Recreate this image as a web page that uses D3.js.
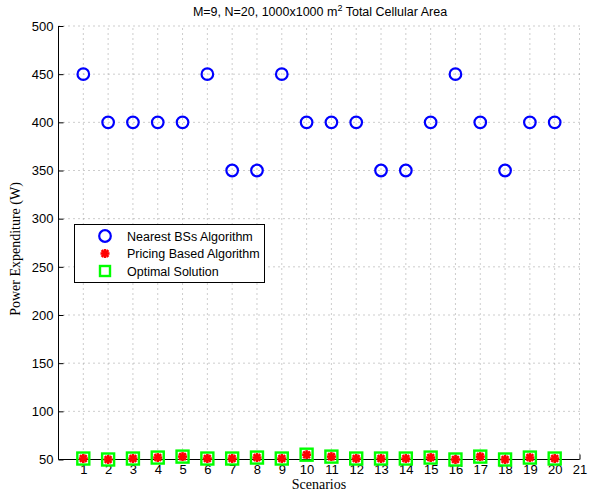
<!DOCTYPE html>
<html><head><meta charset="utf-8">
<script src="https://cdn.jsdelivr.net/npm/d3@7"></script>
<style>body{margin:0;background:#fff}svg{display:block}</style>
</head><body>
<script>
const scenarios = d3.range(1, 21);
const nearestBS = [450,400,400,400,400,450,350,350,450,400,400,400,350,350,400,450,400,350,400,400];
const pricing   = [51,50,51,52,53,51,51,52,51,55,53,51,51,51,52,50,53,50,52,51];
const optimal   = [51,50,51,52,53,51,51,52,51,55,53,51,51,51,52,50,53,50,52,51];
const xTicks = d3.range(1, 22);
const yTicks = d3.range(50, 501, 50);
const legendLabels = ["Nearest BSs Algorithm", "Pricing Based Algorithm", "Optimal Solution"];

const W = 592, H = 492;
const svg = d3.select("body").append("svg").attr("width", W).attr("height", H);
const x = d3.scaleLinear().domain([0, 21]).range([58.5, 579.5]);
const y = d3.scaleLinear().domain([50, 500]).range([459.5, 26]);

// grid
const g = svg.append("g");
g.selectAll(".gx").data(xTicks).join("line")
  .attr("x1", d => x(d)).attr("x2", d => x(d)).attr("y1", y(50)).attr("y2", y(500))
  .attr("stroke", "#9a9a9a").attr("stroke-width", 1).attr("stroke-dasharray", "1,4");
g.selectAll(".gy").data(yTicks).join("line")
  .attr("x1", x(0)).attr("x2", x(21)).attr("y1", d => y(d)).attr("y2", d => y(d))
  .attr("stroke", "#9a9a9a").attr("stroke-width", 1).attr("stroke-dasharray", "1,4");

// axes
const xAxis = d3.axisBottom(x).tickValues(xTicks).tickSize(-5).tickPadding(5).tickFormat(d3.format("d"));
const yAxis = d3.axisLeft(y).tickValues(yTicks).tickSize(-5).tickPadding(5).tickFormat(d3.format("d"));
const gx = svg.append("g").attr("transform", `translate(0,${y(50)})`).call(xAxis);
const gy = svg.append("g").attr("transform", `translate(${x(0)},0)`).call(yAxis);
[gx, gy].forEach(a => {
  a.select(".domain").attr("stroke", "#000").attr("stroke-width", 1);
  a.selectAll(".tick line").attr("stroke", "#000");
  a.selectAll("text").attr("font-family", "Liberation Sans, Arial, sans-serif").attr("font-size", 13).attr("fill", "#000");
});
gx.select(".domain").attr("d", `M${x(0)},0H${x(21)}`);
gy.select(".domain").attr("d", `M0,${y(50)}V${y(500)}`);

// markers
function asterisk(sel, cx, cy, r, color, sw) {
  const gg = sel.append("g").attr("transform", `translate(${cx},${cy})`)
    .attr("stroke", color).attr("stroke-width", sw).attr("stroke-linecap", "butt");
  gg.append("line").attr("x1", -r).attr("x2", r).attr("y1", 0).attr("y2", 0);
  gg.append("line").attr("x1", 0).attr("x2", 0).attr("y1", -r).attr("y2", r);
  const k = r * 0.75;
  gg.append("line").attr("x1", -k).attr("x2", k).attr("y1", -k).attr("y2", k);
  gg.append("line").attr("x1", -k).attr("x2", k).attr("y1", k).attr("y2", -k);
}

svg.append("g").selectAll("circle").data(scenarios).join("circle")
  .attr("cx", (d) => x(d)).attr("cy", (d, i) => y(nearestBS[i])).attr("r", 5.8)
  .attr("fill", "none").attr("stroke", "#0000ff").attr("stroke-width", 2.2);

const ga = svg.append("g");
scenarios.forEach((d, i) => asterisk(ga, x(d), y(pricing[i]), 4.5, "#ff0000", 2.6));

svg.append("g").selectAll("rect").data(scenarios).join("rect")
  .attr("x", d => x(d) - 6).attr("y", (d, i) => y(optimal[i]) - 6)
  .attr("width", 12).attr("height", 12)
  .attr("fill", "none").attr("stroke", "#00ff00").attr("stroke-width", 2.4);

// title
const title = svg.append("text").attr("x", 320).attr("y", 16).attr("text-anchor", "middle")
  .attr("font-family", "Liberation Sans, Arial, sans-serif").attr("font-size", 12.5).attr("fill", "#000");
title.append("tspan").text("M=9, N=20, 1000x1000 m");
title.append("tspan").attr("dy", -5).attr("font-size", 9).text("2");
title.append("tspan").attr("dy", 5).text(" Total Cellular Area");

// axis labels
svg.append("text").attr("x", 319).attr("y", 489).attr("text-anchor", "middle")
  .attr("font-family", "Liberation Serif, Times New Roman, serif").attr("font-size", 14).text("Scenarios");
svg.append("text").attr("transform", `translate(20,249) rotate(-90)`).attr("text-anchor", "middle")
  .attr("font-family", "Liberation Serif, Times New Roman, serif").attr("font-size", 14).text("Power Expenditure (W)");

// legend
const lg = svg.append("g");
lg.append("rect").attr("x", 74.5).attr("y", 224.5).attr("width", 190).attr("height", 58)
  .attr("fill", "#fff").attr("stroke", "#000").attr("stroke-width", 1);
const ly = [236, 253.5, 271];
lg.append("circle").attr("cx", 105).attr("cy", ly[0]).attr("r", 5.8)
  .attr("fill", "none").attr("stroke", "#0000ff").attr("stroke-width", 2.2);
asterisk(lg, 105, ly[1], 4.5, "#ff0000", 2.6);
lg.append("rect").attr("x", 100).attr("y", ly[2] - 5).attr("width", 10).attr("height", 10)
  .attr("fill", "none").attr("stroke", "#00ff00").attr("stroke-width", 2.4);
lg.selectAll("text").data(legendLabels).join("text")
  .attr("x", 127).attr("y", (d, i) => ly[i] + 4.5)
  .attr("font-family", "Liberation Sans, Arial, sans-serif").attr("font-size", 12.5).attr("fill", "#000")
  .text(d => d);
</script>
</body></html>
